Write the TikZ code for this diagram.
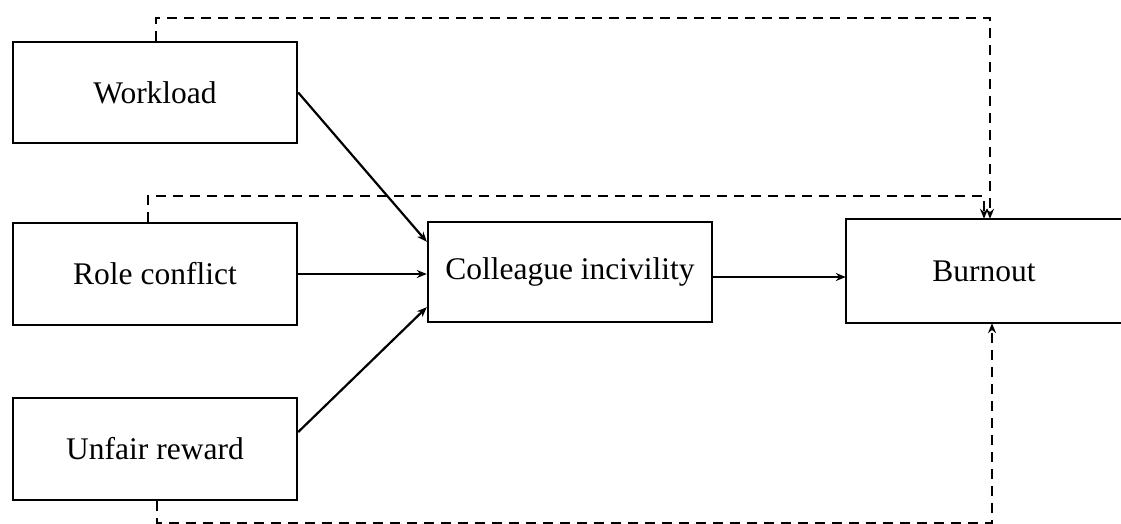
\documentclass[tikz,border=0pt]{standalone}
\usepackage{fontspec}
\setmainfont{Liberation Serif}
\usetikzlibrary{arrows.meta,calc}
\begin{document}
\begin{tikzpicture}[x=1pt,y=-1pt,
  box/.style={draw,line width=2.4pt,minimum height=101pt,inner sep=0pt,
    font=\fontsize{31.5}{36}\selectfont},
  conn/.style={line width=2.2pt,-{Stealth[length=10pt,width=8pt]}},
  dconn/.style={conn,line width=2.4pt,dash pattern=on 10pt off 7pt}]
\useasboundingbox (0,0) rectangle (1121,524);
\node[box,minimum width=284pt] (W) at (155,92.5) {Workload};
\node[box,minimum width=284pt,minimum height=102pt] (R) at (155,274) {Role conflict};
\node[box,minimum width=284pt,minimum height=102pt] (U) at (155,449) {Unfair reward};
\node[box,minimum width=284pt,minimum height=100pt] (C) at (570,272) {Colleague incivility};
\node[box,draw=none,minimum width=274pt,minimum height=102pt] (B) at (984,271) {Burnout};
\draw[line width=2.4pt] (B.north east) -- (B.north west) -- (B.south west) -- (B.south east);
\coordinate (t1) at (156,18);
\coordinate (t2) at (148,196);
\coordinate (t3) at (157,523);
\draw[conn] (W.east) -- ([yshift=-21pt]C.north west);
\draw[conn] (R.east) -- (R.east -| C.west);
\draw[conn] ([yshift=17pt]U.east) -- ([yshift=16pt]C.south west);
\draw[conn] ([yshift=-5pt]C.east) -- ([yshift=-5pt]C.east -| B.west);
\draw[dconn] (W.north -| t1) -- (t1) -| ([xshift=6pt]B.north);
\draw[dconn] (R.north -| t2) -- (t2) -| ([xshift=0pt]B.north);
\draw[dconn] (U.south -| t3) -- (t3) -| ([xshift=8pt]B.south);
\end{tikzpicture}
\end{document}
